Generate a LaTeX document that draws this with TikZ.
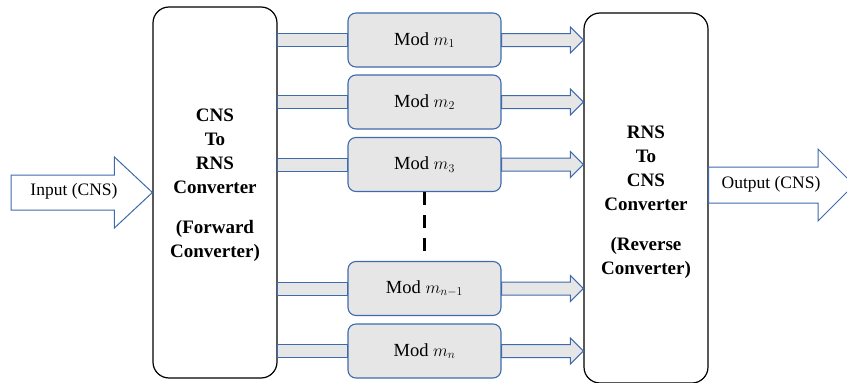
\documentclass[tikz,border=0pt]{standalone}
\usepackage{fontspec}
\setmainfont{Liberation Serif}
\usepackage{tikz}
\usetikzlibrary{calc}
\definecolor{modBlue}{HTML}{3E6AAE}
\definecolor{modGrey}{HTML}{E7E6E6}
% block arrow between two points: [style]{from}{to}{half shaft}{half head}{head length}
\newcommand{\FatArrow}[6][]{%
	\draw[#1] let \p1=(#2), \p2=(#3) in (\x1,\y1+#4) -- (\x2-#6,\y1+#4) -- (\x2-#6,\y1+#5) -- (\x2,\y1) -- (\x2-#6,\y1-#5) -- (\x2-#6,\y1-#4) -- (\x1,\y1-#4) -- cycle;%
}

\begin{document}
\begin{tikzpicture}[x=1pt, y=-1pt,
	convBox/.style={draw, line width=1.2pt, rounded corners=16pt, minimum width=124pt, inner sep=0pt},
	convText/.style={font=\fontsize{19}{24}\selectfont\bfseries, align=center},
	modBox/.style={draw=modBlue, fill=modGrey, line width=1.1pt, rounded corners=8pt, minimum width=153pt, minimum height=54pt, inner sep=0pt, font=\fontsize{18.5}{22}\selectfont},
	shaft/.style={draw=modBlue, fill=modGrey, line width=1pt},
	bigArrow/.style={draw=modBlue, fill=white, line width=1pt},
	plainText/.style={font=\fontsize{17.5}{21}\selectfont}]
\useasboundingbox (0,0) rectangle (847,383);

% Draw converters
\node[convBox, minimum height=371pt, label={[convText, yshift=7pt]center:{CNS\\To\\RNS\\Converter\\[16pt](Forward\\Converter)}}] (fwd) at (215,192.5) {};
\node[convBox, minimum height=370pt, label={[convText, yshift=-4pt]center:{RNS\\To\\CNS\\Converter\\[16pt](Reverse\\Converter)}}] (rev) at (646,198) {};

% Draw modulo channels
\node[modBox] (m1) at (424.5,40) {Mod $m_1$};
\node[modBox] (m2) at (424.5,102) {Mod $m_2$};
\node[modBox] (m3) at (424.5,164.5) {Mod $m_3$};
\node[modBox] (mn1) at (424.5,288.5) {Mod $m_{n-1}$};
\node[modBox] (mn) at (424.5,351) {Mod $m_n$};

% Draw channel arrows
\foreach \m in {m1,m2,m3,mn1,mn} {
	\draw[shaft] ($(fwd.east |- \m)+(0,-6.5)$) rectangle ($(\m.west)+(0,6.5)$);
	\FatArrow[shaft]{\m.east}{\m -| rev.west}{6.5pt}{13pt}{13pt}
}

% Draw dots between channels
\draw[line width=3pt, dash pattern=on 13pt off 10pt] (m3.south) -- (mn1.north);

% Draw input and output
\coordinate (inp) at (11,192.5);
\coordinate (outp) at (854,185);
\FatArrow[bigArrow]{inp}{inp -| fwd.west}{17.5pt}{35.5pt}{38pt}
\FatArrow[bigArrow]{rev.east |- outp}{outp}{18pt}{36pt}{36pt}
\node[plainText] (inTxt) at (74,191) {Input (CNS)};
\node[plainText] (outTxt) at (771,184) {Output (CNS)};
\end{tikzpicture}
\end{document}
